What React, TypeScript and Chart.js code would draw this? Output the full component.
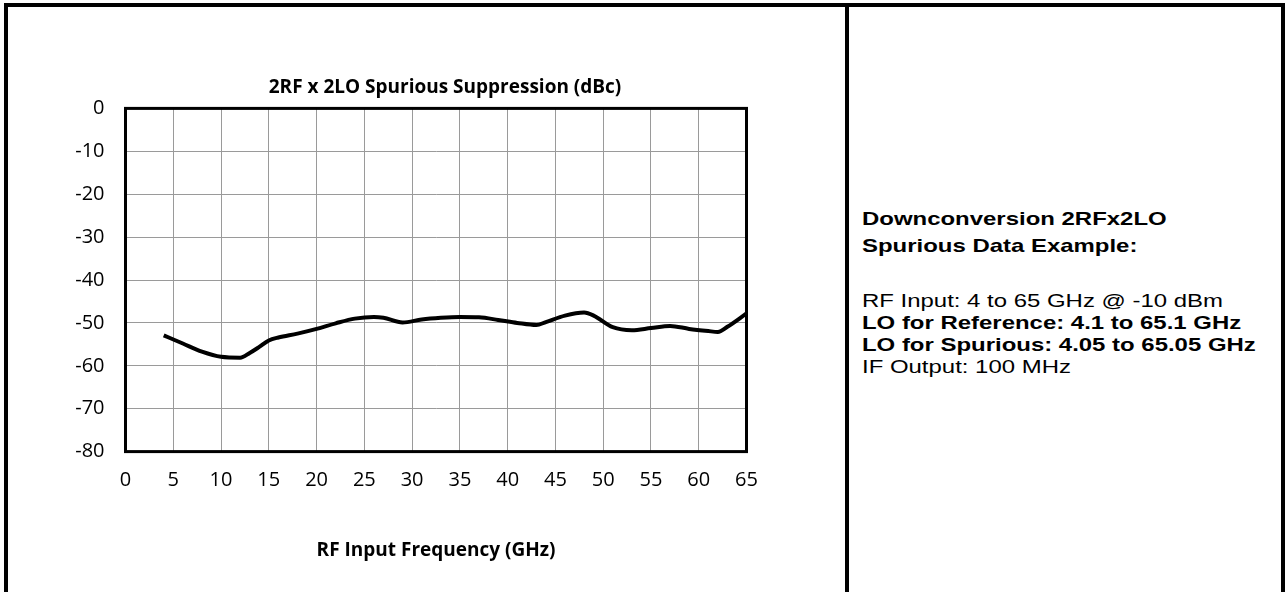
import React, { useEffect, useRef } from "react";
import { Chart, registerables } from "chart.js";

Chart.register(...registerables);

const chartTitle = "2RF x 2LO Spurious Suppression (dBc)";
const xAxisTitle = "RF Input Frequency (GHz)";
const freqsGHz = [4, 6, 8, 10, 12, 13, 14, 15, 16, 18, 20, 22, 24, 26, 27, 29, 31, 33, 35, 37, 39, 41, 43, 44, 46, 48, 49, 51, 53, 55, 57, 59, 61, 62, 63, 65];
const suppressionDbc = [-52.9, -54.8, -56.7, -57.9, -58.1, -57.0, -55.6, -54.1, -53.4, -52.5, -51.4, -50.1, -49.0, -48.6, -48.8, -49.9, -49.2, -48.8, -48.6, -48.7, -49.3, -50.0, -50.5, -49.8, -48.3, -47.6, -48.3, -51.0, -51.7, -51.2, -50.7, -51.4, -51.9, -52.1, -50.9, -47.8];
const xMin = 0;
const xMax = 65;
const xStep = 5;
const yMin = -80;
const yMax = 0;
const yStep = 10;

const infoHeading = ["Downconversion 2RFx2LO", "Spurious Data Example:"];
const infoLines: { text: string; bold: boolean }[] = [
  { text: "RF Input: 4 to 65 GHz @ -10 dBm", bold: false },
  { text: "LO for Reference: 4.1 to 65.1 GHz", bold: true },
  { text: "LO for Spurious: 4.05 to 65.05 GHz", bold: true },
  { text: "IF Output: 100 MHz", bold: false },
];

const chartFont = "'Open Sans', Lato, sans-serif";

const frameBorder = {
  id: "frameBorder",
  afterDatasetsDraw(chart: any) {
    const { ctx, chartArea } = chart;
    ctx.save();
    ctx.strokeStyle = "#000";
    ctx.lineWidth = 3;
    ctx.strokeRect(chartArea.left, chartArea.top, chartArea.right - chartArea.left, chartArea.bottom - chartArea.top);
    ctx.restore();
  },
};

function SpurChart() {
  const ref = useRef<HTMLCanvasElement | null>(null);
  useEffect(() => {
    if (!ref.current) return;
    const chart = new Chart(ref.current, {
      type: "line",
      data: {
        datasets: [
          {
            data: freqsGHz.map((f, i) => ({ x: f, y: suppressionDbc[i] })),
            borderColor: "#000",
            borderWidth: 4,
            pointRadius: 0,
            cubicInterpolationMode: "monotone",
            fill: false,
            yAxisID: "y",
          },
        ],
      },
      options: {
        animation: false,
        responsive: false,
        maintainAspectRatio: false,
        layout: { padding: { left: 0, right: 0, top: 0, bottom: 20 } },
        plugins: {
          legend: { display: false },
          tooltip: { enabled: false },
          title: {
            display: true,
            text: chartTitle,
            color: "#000",
            font: { family: chartFont, size: 19, weight: "bold" },
            padding: { top: 66, bottom: 9.6 },
          },
        },
        scales: {
          x: {
            type: "linear",
            min: xMin,
            max: xMax,
            ticks: { stepSize: xStep, color: "#000", font: { family: chartFont, size: 20 }, padding: 17, maxRotation: 0 },
            grid: { color: "#9a9a9a", lineWidth: 1, drawTicks: false },
            border: { display: false },
            title: {
              display: true,
              text: xAxisTitle,
              color: "#000",
              font: { family: chartFont, size: 19, weight: "bold" },
              padding: { top: 29.8, bottom: 2.8 },
            },
          },
          y: {
            min: yMin,
            max: yMax,
            ticks: { stepSize: yStep, color: "#000", font: { family: chartFont, size: 20 }, padding: 21 },
            grid: { color: "#9a9a9a", lineWidth: 1, drawTicks: false },
            border: { display: false },
            afterFit(scale: any) {
              scale.width = 85.5;
            },
          },
          yRight: {
            position: "right",
            min: yMin,
            max: yMax,
            ticks: { display: false },
            grid: { display: false, drawTicks: false },
            border: { display: false },
            afterFit(scale: any) {
              scale.width = 103.5;
            },
          },
        },
      },
      plugins: [frameBorder],
    });
    return () => chart.destroy();
  }, []);
  return <canvas ref={ref} width={810} height={575} style={{ position: "absolute", left: 40, top: 10, width: 810, height: 575 }} />;
}

export default function App() {
  return (
    <div style={{ position: "fixed", left: 0, top: 0, width: 1285, height: 592, overflow: "hidden", background: "#fff" }}>
      <div style={{ position: "absolute", left: 4, top: 3, width: 1281, height: 700, boxSizing: "border-box", border: "4px solid #000" }} />
      <div style={{ position: "absolute", left: 845, top: 3, width: 4, height: 700, background: "#000" }} />
      <SpurChart />
      <div style={{ position: "absolute", left: 862, top: 205, fontFamily: "'Liberation Sans', Arial, sans-serif", fontSize: 19, color: "#000", transform: "scaleX(1.26)", transformOrigin: "left top", whiteSpace: "nowrap" }}>
        {infoHeading.map((t, i) => (
          <div key={i} style={{ fontWeight: "bold", lineHeight: "27px" }}>{t}</div>
        ))}
      </div>
      <div style={{ position: "absolute", left: 862, top: 290, fontFamily: "'Liberation Sans', Arial, sans-serif", fontSize: 19, color: "#000", transform: "scaleX(1.26)", transformOrigin: "left top", whiteSpace: "nowrap" }}>
        {infoLines.map((l, i) => (
          <div key={i} style={{ fontWeight: l.bold ? "bold" : "normal", lineHeight: "22px" }}>{l.text}</div>
        ))}
      </div>
    </div>
  );
}
